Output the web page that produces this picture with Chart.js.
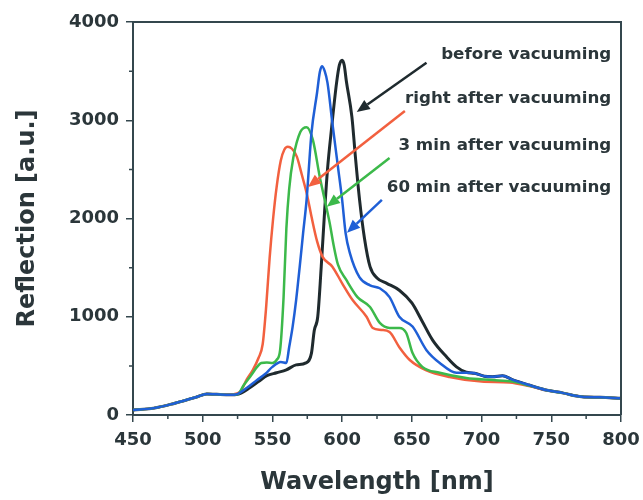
<!DOCTYPE html>
<html>
<head>
<meta charset="utf-8">
<script src="https://cdn.jsdelivr.net/npm/chart.js@4"></script>
<style>
  html, body { margin: 0; padding: 0; background: #fff; }
  #wrap { width: 643px; height: 500px; position: relative; }
</style>
</head>
<body>
<div id="wrap"><canvas id="chart"></canvas></div>
<script>
// spectra (wavelength in nm, reflection in a.u.)
const beforeNm = [450, 465, 480, 495, 503, 510, 520, 525, 534, 540, 546, 553, 560, 567, 574, 578, 580, 582.5, 585, 587.5, 589.5, 592.5, 596, 598, 600, 601.5, 603, 607, 609.5, 612.5, 616, 620, 625, 632, 641, 650, 657, 665, 675, 682, 689, 695, 702, 708, 715, 722, 734, 746, 758, 772, 785, 800];
const beforeVal = [50, 70, 120, 180, 215, 210, 205, 210, 280, 340, 400, 430, 460, 510, 530, 630, 860, 1000, 1510, 2090, 2500, 2930, 3380, 3560, 3610, 3560, 3400, 3035, 2630, 2190, 1800, 1510, 1395, 1340, 1270, 1140, 965, 760, 590, 490, 435, 425, 395, 390, 400, 360, 305, 255, 225, 185, 180, 170];

const rightNm = [450, 465, 480, 495, 503, 510, 520, 527, 531.5, 536, 540, 543, 545.5, 548, 550.5, 553, 556, 558.5, 561, 564, 567.5, 571, 575, 578, 582, 586, 593, 600, 607.5, 617.5, 622, 628, 634, 641, 648.5, 660, 677, 700, 720, 734, 746, 758, 772, 785, 800];
const rightVal = [50, 70, 120, 180, 215, 210, 210, 240, 360, 460, 580, 720, 1100, 1600, 2000, 2320, 2590, 2700, 2730, 2710, 2630, 2450, 2230, 2020, 1770, 1610, 1510, 1340, 1170, 1000, 886, 866, 845, 690, 560, 458, 387, 340, 330, 295, 255, 225, 185, 180, 170];

const min3Nm = [450, 465, 480, 495, 503, 510, 520, 525, 529.5, 535, 539, 542, 546, 550, 553, 555.5, 558, 560, 562, 565, 570, 574.5, 579, 584, 587.5, 591, 594, 597, 603, 611, 620, 627, 634, 641, 646, 650.5, 657.5, 670, 689, 708, 722, 734, 746, 758, 772, 785, 800];
const min3Val = [50, 70, 120, 180, 215, 210, 205, 210, 305, 410, 490, 530, 535, 530, 560, 660, 1200, 1900, 2300, 2620, 2880, 2930, 2800, 2420, 2190, 1960, 1720, 1530, 1375, 1200, 1100, 937, 886, 886, 835, 630, 490, 430, 377, 356, 340, 300, 255, 225, 185, 180, 170];

const min60Nm = [450, 465, 480, 495, 503, 510, 520, 524, 532, 539, 545, 550, 556, 560, 562, 564.5, 567, 569.5, 572, 574.5, 578, 582, 584, 585.5, 587.5, 589.5, 593, 597, 600, 602.5, 605.5, 612.5, 620, 627, 634, 641, 650.5, 660.5, 670, 682, 693, 702, 708, 715, 722, 734, 746, 758, 772, 785, 800];
const min60Val = [50, 70, 120, 180, 215, 210, 205, 210, 280, 356, 420, 490, 540, 530, 690, 900, 1170, 1500, 1850, 2190, 2870, 3280, 3490, 3550, 3500, 3380, 2970, 2525, 2190, 1850, 1650, 1400, 1320, 1290, 1200, 1000, 900, 660, 530, 430, 430, 395, 390, 400, 360, 305, 255, 225, 185, 180, 170];

// annotation text and arrows, in data units
const noteLabels = ["before vacuuming", "right after vacuuming", "3 min after vacuuming", "60 min after vacuuming"];
const noteNm = 793;
const noteVal = [3625, 3180, 2700, 2270];
const arrowFromNm = [660.5, 645, 634, 628.5];
const arrowFromVal = [3585, 3095, 2615, 2190];
const arrowToNm = [610.5, 575.5, 589, 603.5];
const arrowToVal = [3085, 2320, 2120, 1855];

const black = "#1f2a2e";
const orange = "#f2603f";
const green = "#3cb94a";
const blue = "#1f5fd6";
const axisColor = "#34474e";
const textColor = "#2b363a";

function toPoints(xs, ys) {
  return xs.map((v, i) => ({ x: v, y: ys[i] }));
}

function drawArrow(ctx, x1, y1, x2, y2, color) {
  const ang = Math.atan2(y2 - y1, x2 - x1);
  const len = 13, half = 5.5;
  const bx = x2 - len * Math.cos(ang), by = y2 - len * Math.sin(ang);
  ctx.strokeStyle = color;
  ctx.fillStyle = color;
  ctx.lineWidth = 2.5;
  ctx.beginPath();
  ctx.moveTo(x1, y1);
  ctx.lineTo(bx, by);
  ctx.stroke();
  ctx.beginPath();
  ctx.moveTo(x2, y2);
  ctx.lineTo(bx + half * Math.sin(ang), by - half * Math.cos(ang));
  ctx.lineTo(bx - half * Math.sin(ang), by + half * Math.cos(ang));
  ctx.closePath();
  ctx.fill();
}

const decorations = {
  id: "decorations",
  afterDatasetsDraw(chart) {
    const { ctx, chartArea: area } = chart;
    const x = chart.scales.x, y = chart.scales.y;
    ctx.save();

    // top and right frame
    ctx.strokeStyle = axisColor;
    ctx.lineWidth = 2;
    ctx.beginPath();
    ctx.moveTo(area.left, area.top);
    ctx.lineTo(area.right, area.top);
    ctx.lineTo(area.right, area.bottom);
    ctx.stroke();

    // minor ticks
    ctx.lineWidth = 1.5;
    ctx.beginPath();
    for (let v = x.min + 25; v < x.max; v += 50) {
      const px = x.getPixelForValue(v);
      ctx.moveTo(px, area.bottom);
      ctx.lineTo(px, area.bottom + 4);
    }
    for (let v = y.min + 500; v < y.max; v += 1000) {
      const py = y.getPixelForValue(v);
      ctx.moveTo(area.left, py);
      ctx.lineTo(area.left - 4, py);
    }
    ctx.stroke();

    // arrows
    const arrowColors = [black, orange, green, blue];
    arrowColors.forEach((c, i) => {
      drawArrow(ctx,
        x.getPixelForValue(arrowFromNm[i]), y.getPixelForValue(arrowFromVal[i]),
        x.getPixelForValue(arrowToNm[i]), y.getPixelForValue(arrowToVal[i]), c);
    });

    // labels
    ctx.font = 'bold 16.7px "DejaVu Sans"';
    ctx.fillStyle = textColor;
    ctx.textAlign = "right";
    ctx.textBaseline = "alphabetic";
    noteLabels.forEach((t, i) => {
      ctx.fillText(t, x.getPixelForValue(noteNm), y.getPixelForValue(noteVal[i]));
    });
    ctx.restore();
  },
};

Chart.defaults.font.family = '"DejaVu Sans"';
Chart.defaults.font.weight = "bold";
Chart.defaults.color = textColor;

const lineStyle = {
  pointRadius: 0,
  fill: false,
  cubicInterpolationMode: "monotone",
};

new Chart(document.getElementById("chart"), {
  type: "line",
  data: {
    datasets: [
      { ...lineStyle, label: "60 min after vacuuming", data: toPoints(min60Nm, min60Val), borderColor: blue, borderWidth: 2.5 },
      { ...lineStyle, label: "3 min after vacuuming", data: toPoints(min3Nm, min3Val), borderColor: green, borderWidth: 2.5 },
      { ...lineStyle, label: "right after vacuuming", data: toPoints(rightNm, rightVal), borderColor: orange, borderWidth: 2.5 },
      { ...lineStyle, label: "before vacuuming", data: toPoints(beforeNm, beforeVal), borderColor: black, borderWidth: 3 },
    ],
  },
  options: {
    responsive: true,
    maintainAspectRatio: false,
    animation: false,
    layout: { padding: { top: 22, right: 22, left: 0, bottom: 0 } },
    plugins: {
      legend: { display: false },
      tooltip: { enabled: false },
    },
    scales: {
      x: {
        type: "linear",
        min: 450,
        max: 800,
        afterFit(scale) { scale.height = 85; },
        border: { display: true, color: axisColor, width: 2 },
        grid: { drawOnChartArea: false, drawTicks: true, tickLength: 7, color: axisColor, lineWidth: 1.5 },
        ticks: { stepSize: 50, padding: 3, font: { size: 18, weight: "bold", lineHeight: 1.75 }, color: textColor, maxRotation: 0, callback: (v) => String(v) },
        title: { display: true, text: "Wavelength [nm]", font: { size: 24, weight: "bold" }, color: textColor, padding: { top: 0, bottom: 3 } },
      },
      y: {
        min: 0,
        max: 4000,
        afterFit(scale) { scale.width = 133; },
        border: { display: true, color: axisColor, width: 2 },
        grid: { drawOnChartArea: false, drawTicks: true, tickLength: 7, color: axisColor, lineWidth: 1.5 },
        ticks: { stepSize: 1000, padding: 7, font: { size: 18, weight: "bold" }, color: textColor, callback: (v) => String(v) },
        title: { display: true, text: "Reflection [a.u.]", font: { size: 24, weight: "bold" }, color: textColor, padding: { top: 13, bottom: 0 } },
      },
    },
  },
  plugins: [decorations],
});
</script>
</body>
</html>
